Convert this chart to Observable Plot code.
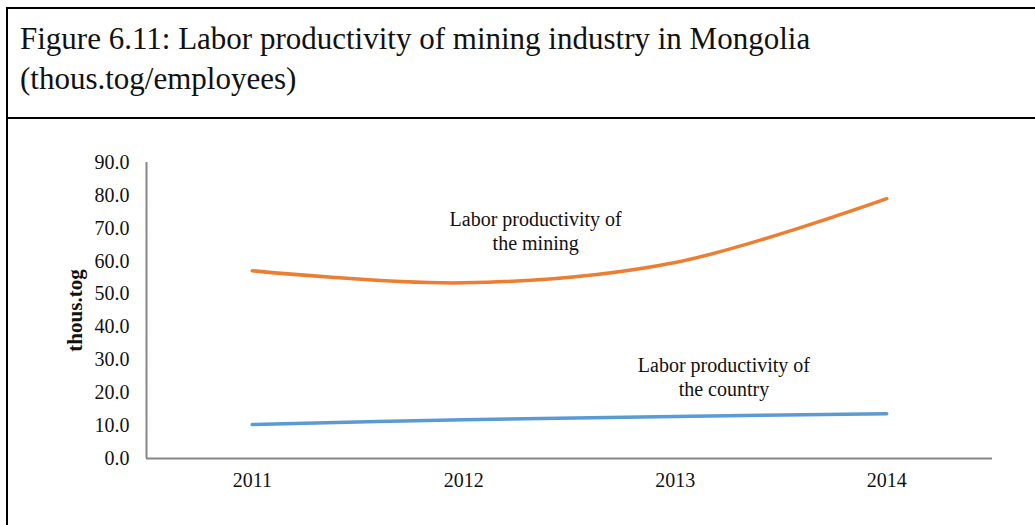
<!DOCTYPE html>
<html>
<head>
<meta charset="utf-8">
<script src="https://cdn.jsdelivr.net/npm/d3@7"></script>
<script src="https://cdn.jsdelivr.net/npm/@observablehq/plot@0.6"></script>
<style>
  html, body { margin: 0; padding: 0; background: white; overflow: hidden; }
  body { width: 1035px; height: 525px; position: relative; font-family: "Liberation Serif", "Times New Roman", serif; }
  #box { position: absolute; left: 6px; top: 7px; width: 1100px; height: 600px; border: 2px solid #000; box-sizing: border-box; }
  #sep { position: absolute; left: 6px; top: 117px; width: 1100px; height: 2px; background: #000; }
  #title { position: absolute; left: 20px; top: 19px; font-size: 31px; line-height: 40px; color: #111; white-space: nowrap; }
  #chart { position: absolute; left: 0; top: 120px; }
</style>
</head>
<body>
<div id="box"></div>
<div id="sep"></div>
<div id="title">Figure 6.11: Labor productivity of mining industry in Mongolia<br>(thous.tog/employees)</div>
<div id="chart"></div>
<script>
const years = [2011, 2012, 2013, 2014];
const mining = [57.1, 53.4, 59.6, 79.0];
const country = [10.3, 11.8, 12.8, 13.6];
const yTicks = [0, 10, 20, 30, 40, 50, 60, 70, 80, 90];
const yLabel = "thous.tog";
const miningLabel = ["Labor productivity of", "the mining"];
const countryLabel = ["Labor productivity of", "the country"];
const miningLabelAt = [2012.34, 69.3];
const countryLabelAt = [2013.23, 24.9];

const miningData = years.map((y, i) => ({year: y, value: mining[i]}));
const countryData = years.map((y, i) => ({year: y, value: country[i]}));

const chart = Plot.plot({
  width: 1035,
  height: 405,
  marginLeft: 146,
  marginRight: 43,
  marginTop: 42,
  marginBottom: 67,
  style: {background: "transparent", fontFamily: "'Liberation Serif', 'Times New Roman', serif", fontSize: "20px", color: "#111"},
  x: {domain: [2010.5, 2014.5]},
  y: {domain: [0, 90]},
  marks: [
    Plot.axisX({ticks: years, tickFormat: d => String(d), tickSize: 0, tickPadding: 14, label: null, fontSize: 20}),
    Plot.axisY({ticks: yTicks, tickFormat: d => d.toFixed(1), tickSize: 0, tickPadding: 17, label: null, fontSize: 20}),
    Plot.ruleY([0], {stroke: "#868686", strokeWidth: 2}),
    Plot.ruleX([2010.5], {y1: 0, y2: 90, stroke: "#868686", strokeWidth: 2}),
    Plot.line(countryData, {x: "year", y: "value", stroke: "#5B9BD5", strokeWidth: 3.5, curve: "catmull-rom"}),
    Plot.line(miningData, {x: "year", y: "value", stroke: "#ED7D31", strokeWidth: 3.5, curve: "catmull-rom"}),
    Plot.text([miningLabel.join("\n")], {x: miningLabelAt[0], y: miningLabelAt[1], text: d => d, fontSize: 20, lineHeight: 1.18, textAnchor: "middle", fill: "#111"}),
    Plot.text([countryLabel.join("\n")], {x: countryLabelAt[0], y: countryLabelAt[1], text: d => d, fontSize: 20, lineHeight: 1.18, textAnchor: "middle", fill: "#111"}),
    Plot.text([yLabel], {frameAnchor: "left", dx: -71, rotate: -90, textAnchor: "middle", text: d => d, fontSize: 21, fontWeight: "bold", fill: "#111"})
  ]
});
document.getElementById("chart").appendChild(chart);
</script>
</body>
</html>
